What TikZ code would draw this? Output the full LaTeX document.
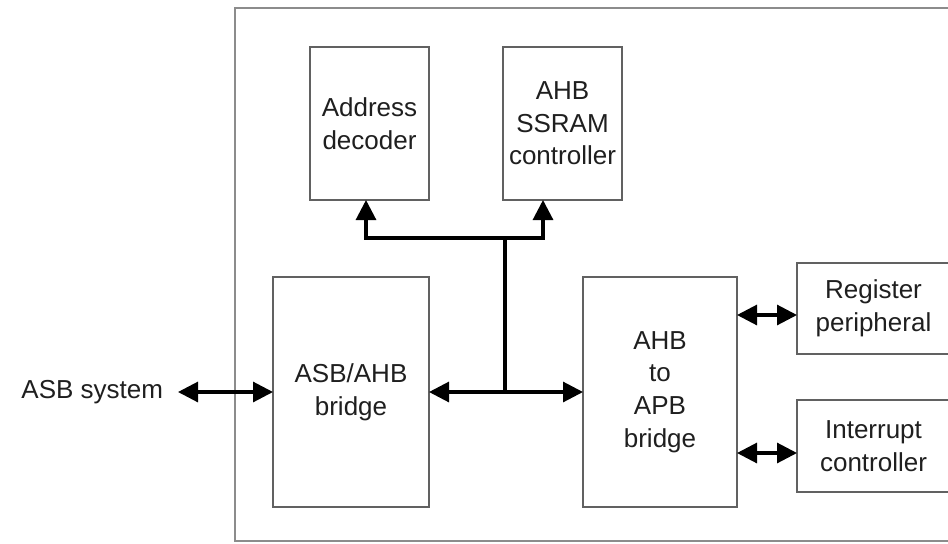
\documentclass[tikz,border=0pt]{standalone}
\usepackage{fontspec}
\setmainfont{Liberation Sans}
\usetikzlibrary{arrows.meta,calc}

\tikzset{
  block/.style={draw=black!62, line width=1.1pt, inner sep=0pt, outer sep=0pt,
    align=center, text=black!88, font=\fontsize{19.5}{24.5}\selectfont},
  label/.style={inner sep=0pt, outer sep=0pt, text=black!88,
    font=\fontsize{19.5}{24.5}\selectfont},
  bus/.style={line width=2.3pt, black},
  tip/.style={-{Triangle[length=15pt,width=15pt]}},
  twoway/.style={{Triangle[length=15pt,width=15pt]}-{Triangle[length=15pt,width=15pt]}},
  frame/.style={draw=black!45, line width=1.5pt}
}

\begin{document}
\begin{tikzpicture}[x=0.75pt, y=-0.75pt]
  \useasboundingbox[fill=white] (0,0) rectangle (948,543);

  % enclosing system boundary (runs off the right and bottom edges)
  \draw[frame] (235,8) rectangle (975,541);

  % functional blocks
  \node[block, minimum width=89.25pt, minimum height=114.75pt] (dec) at (369.5,123.5) {Address\\decoder};
  \node[block, minimum width=89.25pt, minimum height=114.75pt] (ram) at (562.5,123.5) {AHB\\SSRAM\\controller};
  \node[block, minimum width=117pt, minimum height=172.5pt] (br1) at (351,392) {ASB/AHB\\bridge};
  \node[block, minimum width=115.5pt, minimum height=172.5pt] (br2) at (660,392) {AHB\\to\\APB\\bridge};
  \node[block, minimum width=114.75pt, minimum height=68.25pt] (reg) at (873.5,308.5) {Register\\peripheral};
  \node[block, minimum width=114.75pt, minimum height=69pt] (intr) at (873.5,446) {Interrupt\\controller};
  \node[label, anchor=east] (asb) at (163,392) {ASB system};

  % bus junctions and tap points
  \coordinate (bj) at (505,392);
  \coordinate (tj) at (505,238);
  \coordinate (decin) at (366,200);
  \coordinate (ramin) at (543,200);
  \coordinate (ra) at (767,315);
  \coordinate (ia) at (767,453);

  % external link
  \draw[bus, twoway, shorten <=11.25pt] (asb.east) -- (br1.west);

  % AHB main bus
  \draw[bus, twoway] (br1.east) -- (br2.west);
  \draw[bus] (bj) -- (tj);
  \draw[bus, tip] (tj) -| (decin);
  \draw[bus, tip] (tj) -| (ramin);

  % APB side
  \draw[bus, twoway] (ra -| br2.east) -- (ra -| reg.west);
  \draw[bus, twoway] (ia -| br2.east) -- (ia -| intr.west);
\end{tikzpicture}
\end{document}
